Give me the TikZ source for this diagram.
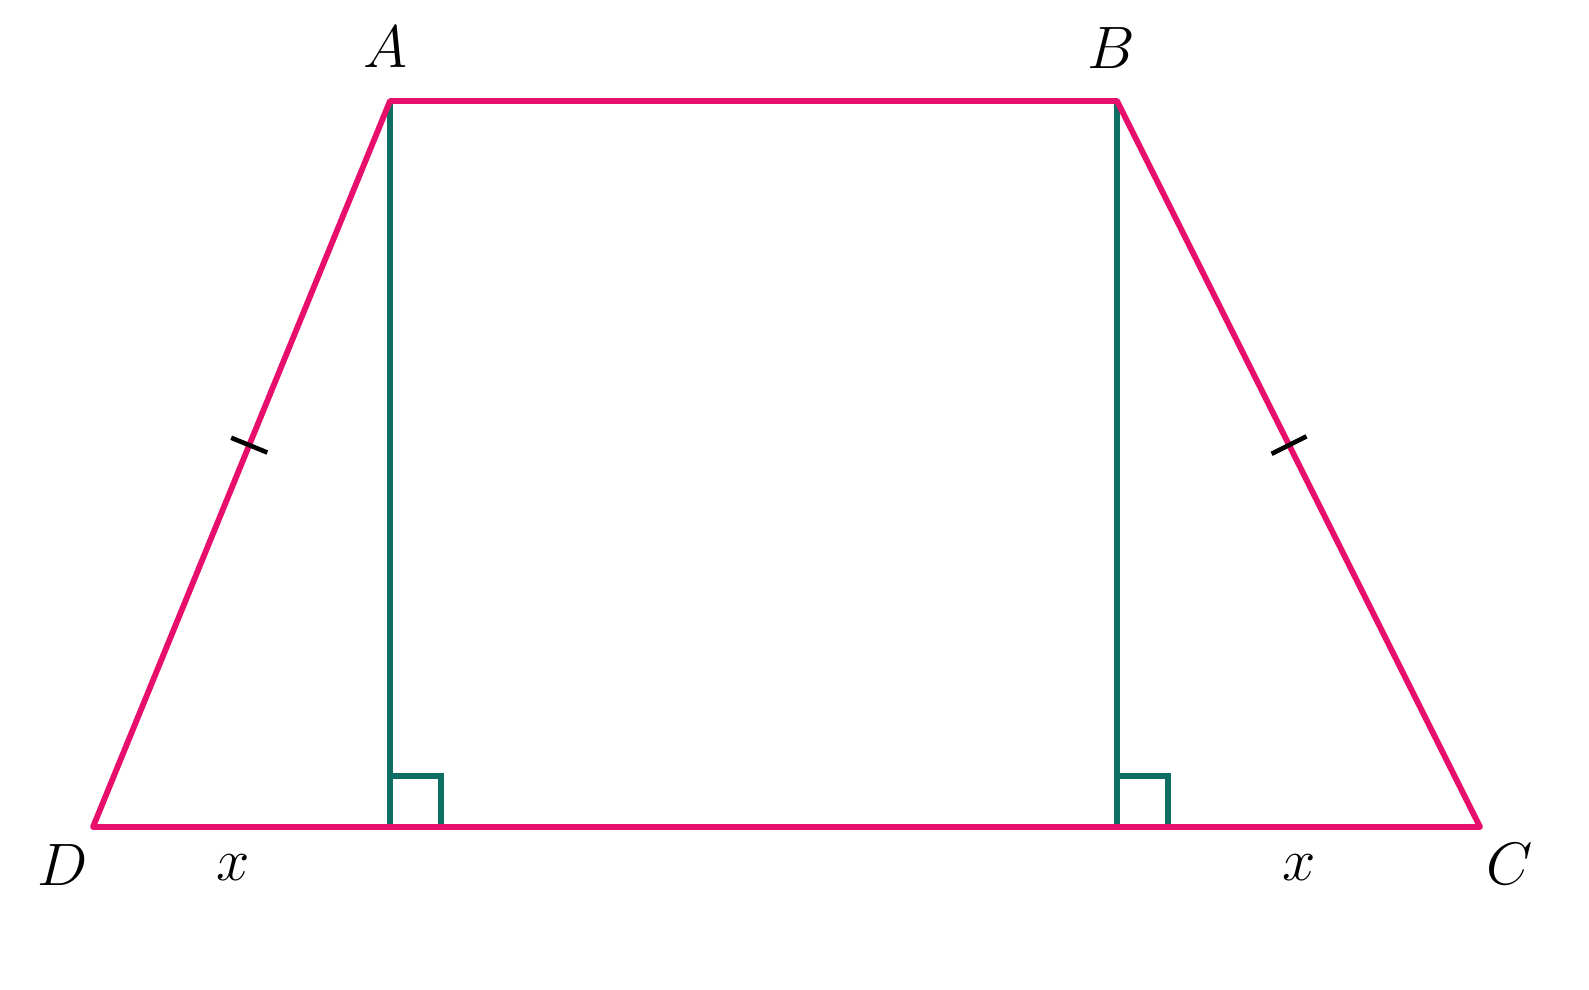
\documentclass[tikz,border=0pt]{standalone}
\usepackage{amsmath}
\usepackage{xcolor}
\usepackage{tikz}
\usetikzlibrary{calc}

\definecolor{edgepink}{RGB}{232,14,108}
\definecolor{heightgreen}{RGB}{14,110,100}

\begin{document}
\begin{tikzpicture}[x=0.02cm, y=-0.02cm]
\tikzstyle{side} = [draw = edgepink, line width = 3.3pt, line join = round, line cap = round]
\tikzstyle{height} = [draw = heightgreen, line width = 2.9pt]
\tikzstyle{tickmark} = [rectangle, fill = black, inner sep = 0pt, minimum width = 2.6pt, minimum height = 0.78cm, sloped]
\tikzstyle{vlabel} = [font = \fontsize{24.88}{30}\selectfont, scale = 1.37, transform shape, inner sep = 0pt]
\useasboundingbox (0,0) rectangle (1589,990);
% vertices and feet of the heights
\coordinate (A) at (390,101);
\coordinate (B) at (1117,101);
\coordinate (C) at (1480,827);
\coordinate (D) at (93,827);
\coordinate (E) at (390,827);
\coordinate (F) at (1117,827);
\draw [height] (A) -- (E);
\draw [height] (B) -- (F);
\draw [height] (E) ++(0,-51) -- ++(51,0) -- ++(0,51);
\draw [height] (F) ++(0,-51) -- ++(51,0) -- ++(0,51);
\draw [side] (D) -- (A) -- (B) -- (C) -- cycle;
% equal sides
\path (A) -- (D) node (t1) [tickmark, pos = 0.474] {};
\path (B) -- (C) node (t2) [tickmark, pos = 0.474] {};
% labels
\node (la) [vlabel] at (385,47) {$A$};
\node (lb) [vlabel] at (1111,48) {$B$};
\node (lc) [vlabel] at (1510,864) {$C$};
\node (ld) [vlabel] at (63,865) {$D$};
\node (x1) [vlabel] at (233,868) {$x$};
\node (x2) [vlabel] at (1299,868) {$x$};
\end{tikzpicture}
\end{document}
